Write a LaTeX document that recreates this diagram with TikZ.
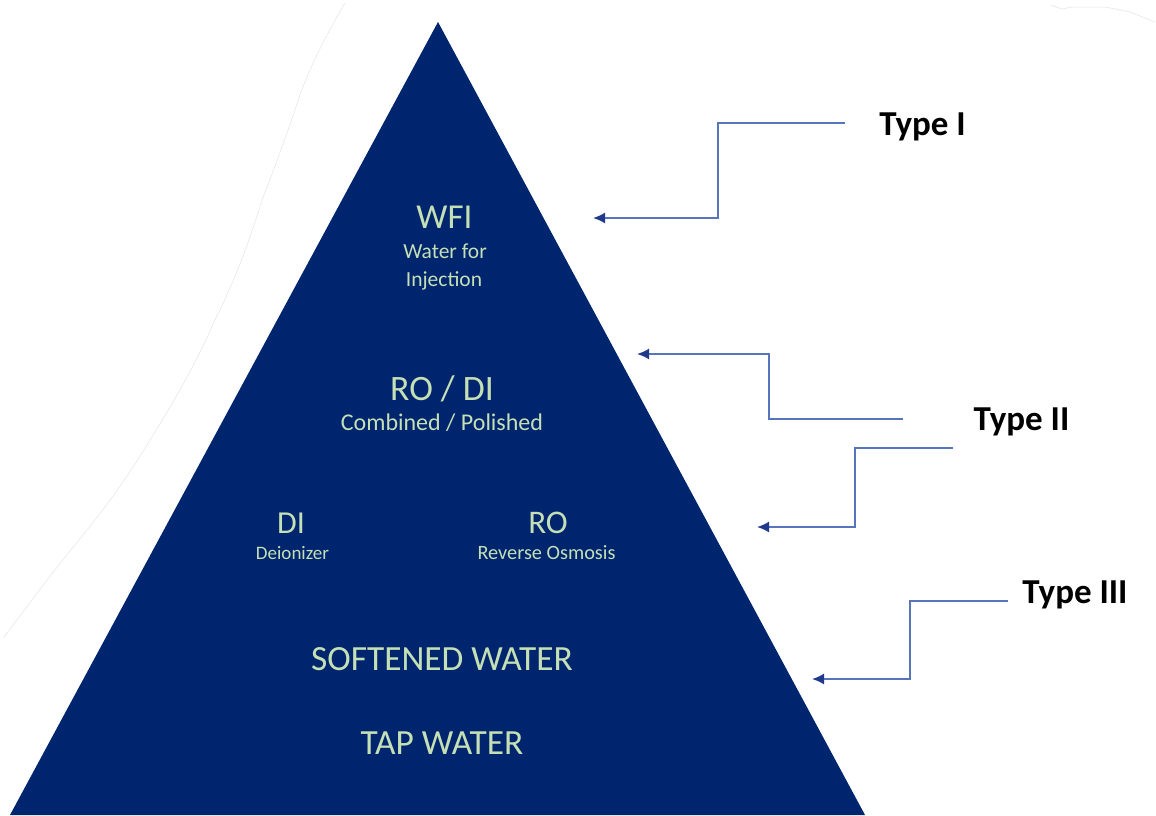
\documentclass[tikz,border=0pt]{standalone}
\usepackage{fontspec}
\setmainfont{Carlito}
\usetikzlibrary{arrows.meta}
\definecolor{navy}{HTML}{00256F}
\definecolor{lgreen}{HTML}{C5E0B4}
\definecolor{linkblue}{HTML}{5676BC}
\definecolor{tipblue}{HTML}{1F3A8A}
\definecolor{faint}{HTML}{E4E4E4}
\tikzset{
  lvl/.style={anchor=base, inner sep=0pt, text=lgreen},
  typelbl/.style={anchor=base, inner sep=0pt, text=black, font=\fontsize{35}{40}\selectfont\bfseries},
  link/.style={draw=linkblue, line width=1.8pt, -{Latex[length=12pt,width=11pt,color=tipblue]}},
}
\newcommand{\fs}[1]{\fontsize{#1}{#1}\selectfont}
\begin{document}
\begin{tikzpicture}[x=1pt,y=-1pt]
\useasboundingbox (0,0) rectangle (1156,815);
% faint artefact outlines
\draw[faint, line width=0.5pt] (345,3) .. controls (320,45) and (305,80) .. (300,95)
  .. controls (285,140) and (270,180) .. (262,200)
  .. controls (250,240) and (235,280) .. (215,320)
  .. controls (195,365) and (175,400) .. (150,440)
  .. controls (120,490) and (95,520) .. (75,545)
  .. controls (50,575) and (25,610) .. (3,638);
\draw[faint, line width=0.5pt] (1050,5) -- (1062,9) -- (1072,7) -- (1105,7) -- (1130,12) -- (1155,22);
% pyramid
\fill[navy] (438,22) -- (865,815) -- (10,815) -- cycle;
% level texts
\node[lvl, font=\fs{35}] (wfi) at (444.5,228) {WFI};
\node[lvl, font=\fs{21.5}] (wfi1) at (445,258) {Water for};
\node[lvl, font=\fs{21.5}] (wfi2) at (444,286) {Injection};
\node[lvl, font=\fs{35.7}] (rodi) at (442,400) {RO / DI};
\node[lvl, font=\fs{24}] (rodi1) at (442,430) {Combined / Polished};
\node[lvl, font=\fs{32}] (di) at (291,533) {DI};
\node[lvl, font=\fs{19}] (di1) at (292.5,559) {Deionizer};
\node[lvl, font=\fs{33}] (ro) at (548,533) {RO};
\node[lvl, font=\fs{20.3}] (ro1) at (546.5,559) {Reverse Osmosis};
\node[lvl, font=\fs{35.4}] (soft) at (442,670) {SOFTENED WATER};
\node[lvl, font=\fs{35.4}] (tap) at (442,754) {TAP WATER};
% type labels
\node[typelbl] (t1) at (922.5,135) {Type I};
\node[typelbl] (t2) at (1021.5,430) {Type II};
\node[typelbl] (t3) at (1075,603) {Type III};
% connector endpoints
\coordinate (s1) at (845,123);
\coordinate (e1) at (593,218);
\coordinate (s2a) at (903,419);
\coordinate (e2a) at (637,354);
\coordinate (s2b) at (953,448);
\coordinate (e2b) at (757,527);
\coordinate (s3) at (1008,601);
\coordinate (e3) at (812,679);
% connectors
\draw[link] (s1) -- (718,123) -- (718,218) -- (e1);
\draw[link] (s2a) -- (769,419) -- (769,354) -- (e2a);
\draw[link] (s2b) -- (855,448) -- (855,527) -- (e2b);
\draw[link] (s3) -- (910,601) -- (910,679) -- (e3);
\end{tikzpicture}
\end{document}
